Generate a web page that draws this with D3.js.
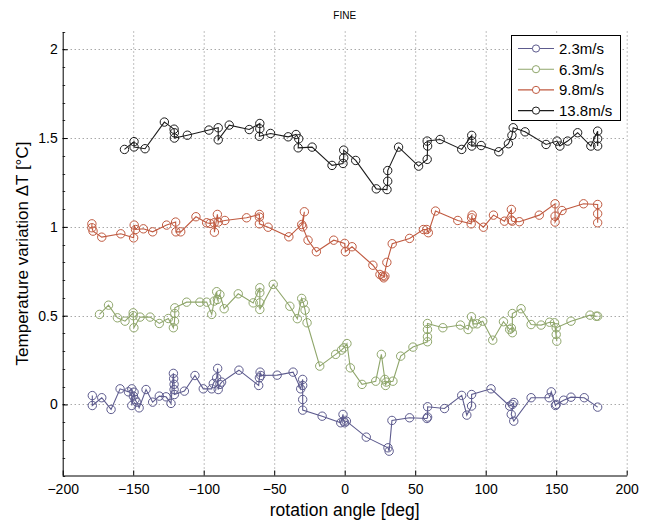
<!DOCTYPE html>
<html>
<head>
<meta charset="utf-8">
<script src="https://cdn.jsdelivr.net/npm/d3@7"></script>
<style>
  body { margin: 0; background: #fff; }
  svg text { font-family: "Liberation Sans", Arial, sans-serif; fill: #000; }
</style>
</head>
<body>
<svg id="chart" width="656" height="520"></svg>
<script>
var title = 'FINE';
var xTicks = [-200, -150, -100, -50, 0, 50, 100, 150, 200];
var yTicks = [0, 0.5, 1, 1.5, 2];
var seriesNames = ['2.3m/s', '6.3m/s', '9.8m/s', '13.8m/s'];
var seriesColors = ['#5d5b8e', '#8fa66b', '#c05a40', '#1c1c1c'];

var angle23 = [-179, -179, -172.3, -165.7, -159.3, -153.4, -151, -151, -149.9, -149.4, -148.7, -147.5, -145.8,
  -140.9, -136.2, -131.5, -126.7, -123.2, -121.5, -121.3, -121, -121, -120.8, -113.7, -106.2, -100.3,
  -94.3, -93.2, -90.8, -90.1, -89.7, -88.5, -87.3, -75, -61, -60.5, -60, -59.5, -47.9, -36.6,
  -31.2, -29.8, -29.8, -29.8, -29.8, -16, -2.8, -1.2, -0.7, 0, 1.2, 15.3, 30.7, 31.5, 33.5, 46,
  58.3, 58.8, 58.8, 70.8, 83, 86.6, 90, 90, 103.8, 117, 118.9, 119.9, 118.1, 119.9, 132.2,
  145, 146.5, 149.5, 150, 155.3, 160.5, 169.9, 179.4];
var temp23 = [0.05, -0.006, 0.038, -0.028, 0.088, 0.071, 0.088, -0.006, 0.047, 0.069, 0.028, 0.013, -0.019,
  0.084, 0.013, 0.047, 0.043, 0.006, 0.175, 0.145, 0.113, 0.084, 0.056, 0.075, 0.163, 0.088,
  0.088, 0.118, 0.15, 0.203, 0.084, 0.113, 0.126, 0.193, 0.107, 0.15, 0.182, 0.163, 0.165, 0.182,
  0.088, 0.141, 0.107, 0.028, -0.032, -0.066, -0.103, -0.056, -0.094, -0.103, -0.094, -0.184, -0.244, -0.263, -0.09, -0.075,
  -0.079, -0.071, -0.013, -0.023, 0.051, -0.06, -0.009, 0.056, 0.088, -0.009, 0, 0.011, -0.056, -0.094, 0.038,
  0.038, 0.071, -0.006, 0, 0.024, 0.041, 0.038, -0.015];

var angle63 = [-173.9, -167.5, -161.2, -155.8, -150, -150, -149.5, -145.1, -138, -131.5, -125.1,
  -121.5, -120.7, -120.5, -120.5, -112.1, -102.7, -97.9, -94.3, -92.6, -90.8, -90.3, -88.5, -85.5,
  -75.5, -64.9, -60.2, -60.2, -60.2, -60.2, -50.7, -38.9, -33.6, -30.5, -29.3, -28.1, -26.7, -17.7,
  -6.4, -2.3, -0.7, 1.6, 4, 12.3, 22, 26, 28.5, 29, 29.5, 34.2, 39.7, 48.4, 58.7, 58.7, 58.7, 58.7,
  69.6, 82.1, 87.5, 89.9, 91.1, 93.9, 97.9, 105, 112.6, 117, 118.2, 118.9, 118.9, 125.1, 132.2, 139.3,
  145.3, 148.8, 150.4, 150, 150, 160.5, 174, 178.3, 179.4];
var temp63 = [0.507, 0.559, 0.488, 0.469, 0.516, 0.5, 0.432, 0.492, 0.492, 0.456, 0.484,
  0.432, 0.469, 0.512, 0.544, 0.576, 0.576, 0.576, 0.507, 0.582, 0.635, 0.591, 0.619, 0.539,
  0.623, 0.572, 0.657, 0.629, 0.572, 0.535, 0.676, 0.553, 0.483, 0.597, 0.572, 0.531, 0.46, 0.216,
  0.282, 0.306, 0.319, 0.343, 0.206, 0.113, 0.131, 0.282, 0.141, 0.107, 0.126, 0.131, 0.272, 0.323, 0.353, 0.381, 0.422, 0.456,
  0.432, 0.447, 0.422, 0.494, 0.454, 0.454, 0.469, 0.362, 0.466, 0.422, 0.43, 0.404, 0.512, 0.539, 0.45, 0.447,
  0.463, 0.46, 0.356, 0.394, 0.432, 0.469, 0.503, 0.497, 0.497];

var angle98 = [-179.3, -179.3, -178.5, -172.3, -158.8, -149.7, -149.3, -148.3, -142.8, -136.2, -126.3,
  -119.9, -119.7, -116.3, -105.5, -97.9, -95.5, -92.6, -92.4, -90.3, -89.7, -85, -69.6, -60.5, -60.5, -60.5,
  -54.3, -39.6, -30.5, -28.6, -29.8, -26, -20.1, -7.8, 0, 0.5, 5.2, 20, 25, 26.9, 28.5, 27.7, 29.9,
  33.7, 46, 55.8, 58.2, 59.3, 64.4, 80.2, 89.7, 90.4, 90, 98.4, 105.5, 113.3, 118.2, 118.2, 118.9,
  123.9, 138, 149.2, 149.2, 149.2, 154.1, 169.4, 179.4, 179.4, 179.4];
var temp98 = [1.017, 0.995, 0.976, 0.942, 0.961, 0.938, 1.01, 0.985, 0.989, 0.972, 1.01,
  1.027, 0.972, 0.972, 1.057, 1.023, 1.019, 1.023, 0.97, 1.07, 1.027, 1.036, 1.051, 1.07, 1.055, 1.017,
  0.998, 0.944, 1.013, 1.085, 1.0, 0.925, 0.86, 0.925, 0.907, 0.86, 0.888, 0.784, 0.732, 0.723, 0.723, 0.713, 0.8,
  0.905, 0.935, 0.985, 0.985, 0.967, 1.089, 1.036, 1.017, 1.066, 1.051, 0.998, 1.066, 1.032, 1.098, 1.038, 1.032,
  1.029, 1.066, 1.13, 1.06, 1.027, 1.092, 1.13, 1.126, 1.074, 1.023];

var angle138 = [-156.2, -149.4, -149.4, -141.6, -127.9, -121, -120.8, -120.8, -111.6, -96.3, -89.7, -89.7,
  -81.9, -67.7, -60.2, -60.2, -60.5, -52.6, -40.1, -34.5, -32.6, -33, -23.1, -9, -1.2, -0.7, -0.7,
  7.8, 22.4, 30, 30.5, 30.5, 38.2, 52.4, 58.5, 58.8, 58.5, 67.7, 83, 90.1, 90.1, 90.1, 96.8, 109.3,
  116.1, 118.6, 119.5, 127.9, 142.8, 150.6, 152.6, 158.1, 165.2, 174.6, 179.4, 179.4, 179.4];
var temp138 = [1.436, 1.48, 1.45, 1.44, 1.59, 1.55, 1.53, 1.5, 1.516, 1.545, 1.558, 1.49,
  1.573, 1.548, 1.582, 1.552, 1.51, 1.526, 1.507, 1.52, 1.496, 1.445, 1.449, 1.346, 1.357, 1.389, 1.432,
  1.374, 1.214, 1.21, 1.257, 1.317, 1.449, 1.342, 1.38, 1.455, 1.483, 1.492, 1.436, 1.515, 1.483, 1.455, 1.458, 1.423,
  1.468, 1.515, 1.558, 1.535, 1.464, 1.483, 1.455, 1.483, 1.53, 1.455, 1.539, 1.496, 1.455];

var angles = [angle23, angle63, angle98, angle138];
var temps = [temp23, temp63, temp98, temp138];

(function() {
  var svg = d3.select('#chart');
  var plotLeft = 62.7, plotRight = 626.7, plotTop = 31.5, plotBottom = 475.5;

  var x = d3.scaleLinear().domain([-200, 200]).range([plotLeft, plotRight]);
  var y = d3.scaleLinear().domain([-0.4, 2.1]).range([plotBottom, plotTop]);

  // dotted grid
  var grid = svg.append('g')
    .attr('stroke', '#808080')
    .attr('stroke-width', 1)
    .attr('stroke-dasharray', '1,3');
  grid.selectAll('line.gx')
    .data(xTicks.slice(1))
    .enter().append('line')
    .attr('x1', function(d) { return x(d) + 0.5; })
    .attr('x2', function(d) { return x(d) + 0.5; })
    .attr('y1', plotTop)
    .attr('y2', plotBottom);
  grid.selectAll('line.gy')
    .data(yTicks)
    .enter().append('line')
    .attr('x1', plotLeft)
    .attr('x2', plotRight)
    .attr('y1', function(d) { return Math.round(y(d)) + 0.5; })
    .attr('y2', function(d) { return Math.round(y(d)) + 0.5; });

  // minor ticks on y
  svg.append('g').selectAll('line')
    .data(d3.range(-0.4, 2.11, 0.1))
    .enter().append('line')
    .attr('x1', plotLeft)
    .attr('x2', plotLeft + 2.5)
    .attr('y1', function(d) { return Math.round(y(d)) + 0.5; })
    .attr('y2', function(d) { return Math.round(y(d)) + 0.5; })
    .attr('stroke', '#000')
    .attr('stroke-width', 0.8);

  var xAxis = svg.append('g')
    .attr('transform', 'translate(0,' + plotBottom + ')')
    .call(d3.axisBottom(x).tickValues(xTicks).tickSizeInner(-5).tickSizeOuter(0).tickPadding(9));
  var yAxis = svg.append('g')
    .attr('transform', 'translate(' + plotLeft + ',0)')
    .call(d3.axisLeft(y).tickValues(yTicks).tickFormat(d3.format('')).tickSizeInner(-5).tickSizeOuter(0).tickPadding(5));
  [xAxis, yAxis].forEach(function(a) {
    a.selectAll('text').attr('font-size', 14).style('font-family', '"Liberation Sans", Arial, sans-serif');
    a.selectAll('line, path').attr('stroke', '#000');
  });

  var line = d3.line()
    .x(function(d) { return x(d[0]); })
    .y(function(d) { return y(d[1]); });

  seriesNames.forEach(function(name, i) {
    var pts = d3.zip(angles[i], temps[i]);
    var g = svg.append('g');
    g.append('path')
      .datum(pts)
      .attr('d', line)
      .attr('fill', 'none')
      .attr('stroke', seriesColors[i])
      .attr('stroke-width', 1.1);
    g.selectAll('circle')
      .data(pts)
      .enter().append('circle')
      .attr('cx', function(d) { return x(d[0]); })
      .attr('cy', function(d) { return y(d[1]); })
      .attr('r', 4.2)
      .attr('fill', 'none')
      .attr('stroke', seriesColors[i])
      .attr('stroke-width', 1);
  });

  // legend
  var legend = svg.append('g');
  legend.append('rect')
    .attr('x', 511.5)
    .attr('y', 35.5)
    .attr('width', 109)
    .attr('height', 85)
    .attr('fill', '#fff')
    .attr('stroke', '#000')
    .attr('stroke-width', 1);
  seriesNames.forEach(function(name, i) {
    var ly = 48.5 + i * 20.7;
    legend.append('line')
      .attr('x1', 518)
      .attr('x2', 554)
      .attr('y1', ly)
      .attr('y2', ly)
      .attr('stroke', seriesColors[i])
      .attr('stroke-width', 1.1);
    legend.append('circle')
      .attr('cx', 536)
      .attr('cy', ly)
      .attr('r', 3.6)
      .attr('fill', '#fff')
      .attr('stroke', seriesColors[i]);
    legend.append('text')
      .attr('x', 559)
      .attr('y', ly + 5.5)
      .attr('font-size', 15)
      .text(name);
  });

  svg.append('text')
    .attr('x', (plotLeft + plotRight) / 2)
    .attr('y', 19)
    .attr('text-anchor', 'middle')
    .attr('font-size', 10)
    .text(title);

  svg.append('text')
    .attr('x', (plotLeft + plotRight) / 2)
    .attr('y', 516)
    .attr('text-anchor', 'middle')
    .attr('font-size', 17.5)
    .text('rotation angle [deg]');

  svg.append('text')
    .attr('transform', 'translate(28,' + ((plotTop + plotBottom) / 2) + ') rotate(-90)')
    .attr('text-anchor', 'middle')
    .attr('font-size', 17)
    .text('Temperature variation \u0394T [\u00b0C]');
})();
</script>
</body>
</html>
